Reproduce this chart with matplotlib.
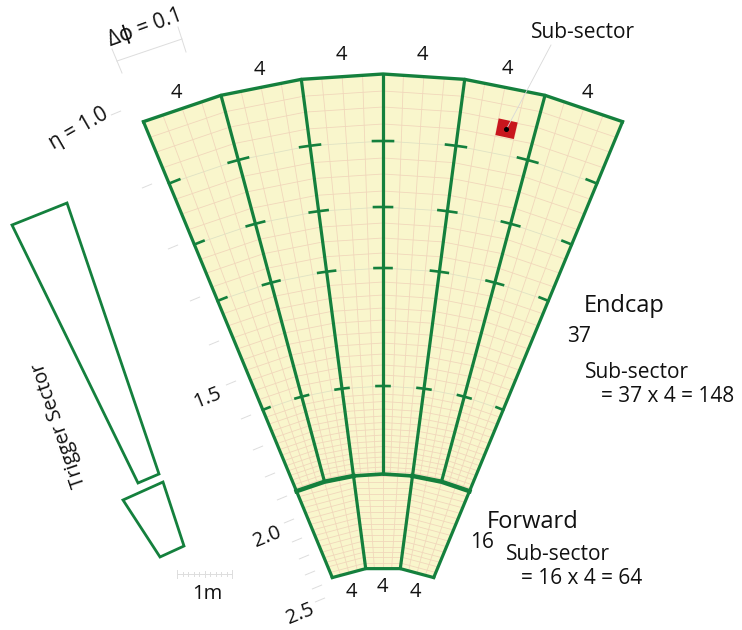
import numpy as np
import matplotlib
matplotlib.use("Agg")
import matplotlib.pyplot as plt

# picture geometry, read in pixels
center_x, center_y = 383, 700
sector_edges = [-22.5, -15, -7.5, 0, 7.5, 15, 22.5]
forward_edges = [-22.5, -7.5, 7.5, 22.5]

# ring radii from outer edge inward
endcap_rings = [626, 609, 593, 576, 559, 542, 526, 509, 493, 477, 462, 447, 432,
                418, 405, 392, 380, 368, 357, 346, 335, 325, 314, 306, 298.5, 291,
                284, 277.5, 271, 265, 259, 253.5, 248, 243, 238, 233, 229, 226]
forward_rings = [226, 220, 214, 208, 202, 196, 190, 184, 178, 172, 166, 160, 154,
                 149, 144, 138, 132.5]
tick_radii = [559, 493, 432, 314]
tick_half = [10, 9, 8.5, 6.5]

guide_x = [116, 147, 173, 195, 214, 231, 246, 258, 270, 282, 289, 297, 304, 310, 317, 320]
guide_y = [113, 186, 247, 299, 343, 383, 417, 448, 475, 498, 521, 540, 557, 573, 587, 600]

top_counts = ["4", "4", "4", "4", "4", "4"]
top_count_x = [176, 259, 341, 422, 507, 587]
top_count_y = [91, 68, 53, 53, 67, 91]
forward_count_x = [351, 382, 415]
forward_count_y = [590, 585, 590]

trigger_upper_x = [12, 67, 159, 138]
trigger_upper_y = [225, 203, 474, 483]
trigger_lower_x = [123, 163, 184, 160]
trigger_lower_y = [500, 482, 546, 557]

scale_ticks = list(range(11))

GREEN = "#14803d"
FILL = "#f9f6cc"
GRID = "#f1d7bb"
FAINT = "#dfe2c4"
GRAY = "#dddddd"
FONT = ["Open Sans", "DejaVu Sans"]


def polar(r, phi):
    a = np.radians(phi)
    return center_x + r * np.sin(a), center_y - r * np.cos(a)


def draw_sector(ax, rings, phi0, phi1):
    x0, y0 = polar(np.array(rings), phi0)
    x1, y1 = polar(np.array(rings), phi1)
    ax.fill(list(x0) + list(x1[::-1]), list(y0) + list(y1[::-1]), color=FILL, lw=0, zorder=1)
    for i, r in enumerate(rings):
        col = FAINT if r in tick_radii else GRID
        ax.plot([x0[i], x1[i]], [y0[i], y1[i]], color=col, lw=0.6, zorder=2)
    for t in [0.25, 0.5, 0.75]:
        ax.plot(x0 + (x1 - x0) * t, y0 + (y1 - y0) * t, color=GRID, lw=0.6, zorder=2)


fig = plt.figure(figsize=(7.42, 6.30), dpi=100)
ax = fig.add_axes([0, 0, 1, 1])
ax.set_xlim(0, 742)
ax.set_ylim(630, 0)
ax.axis("off")

for a, b in zip(sector_edges[:-1], sector_edges[1:]):
    draw_sector(ax, endcap_rings, a, b)
for a, b in zip(forward_edges[:-1], forward_edges[1:]):
    draw_sector(ax, forward_rings, a, b)

# radial sector lines
for phi in sector_edges:
    xs, ys = polar(np.array([endcap_rings[0], endcap_rings[-1]]), phi)
    ax.plot(xs, ys, color=GREEN, lw=2.3, zorder=4, solid_capstyle="round")
for phi in forward_edges:
    xs, ys = polar(np.array([forward_rings[0], forward_rings[-1]]), phi)
    ax.plot(xs, ys, color=GREEN, lw=2.3, zorder=4, solid_capstyle="round")

# outer edges
xs, ys = polar(endcap_rings[0], np.array(sector_edges))
ax.plot(xs, ys, color=GREEN, lw=2.4, zorder=4, solid_joinstyle="miter")
xs, ys = polar(forward_rings[-1], np.array(forward_edges))
ax.plot(xs, ys, color=GREEN, lw=2.3, zorder=4, solid_joinstyle="miter")

# endcap / forward boundary, heavier on the two outer sides
for phis, lw in [([-22.5, -15, -7.5], 3.2), ([-7.5, 0, 7.5], 2.6), ([7.5, 15, 22.5], 3.2)]:
    xs, ys = polar(endcap_rings[-1], np.array(phis))
    ax.plot(xs, ys, color=GREEN, lw=lw, zorder=4)

# short arcs on the sector lines
for r, h in zip(tick_radii, tick_half):
    d = np.degrees(h / r)
    for phi in sector_edges:
        lo = phi if phi == -22.5 else phi - d
        hi = phi if phi == 22.5 else phi + d
        if phi == -22.5:
            hi = phi + d * 1.1
        if phi == 22.5:
            lo = phi - d * 1.1
        xs, ys = polar(r, np.linspace(lo, hi, 7))
        ax.plot(xs, ys, color=GREEN, lw=1.9, zorder=5)

# marked sub-sector
sub_x, sub_y = polar(np.array([593, 593, 576, 576]), np.array([11.25, 13.125, 13.125, 11.25]))
ax.fill(sub_x, sub_y, color="#c8161d", lw=0, zorder=6)
dot_x, dot_y = polar(584, 12.2)
ax.plot([dot_x, 551], [dot_y, 45], color="#d8d8d8", lw=0.6, zorder=7)
ax.plot([dot_x], [dot_y], "o", color="black", ms=2.6, zorder=8)

# trigger sector outlines
ax.fill(trigger_upper_x, trigger_upper_y, facecolor="white", edgecolor=GREEN, lw=2.0, zorder=3)
ax.fill(trigger_lower_x, trigger_lower_y, facecolor="white", edgecolor=GREEN, lw=2.0, zorder=3)

# light guides left of the fan
for gx, gy in zip(guide_x, guide_y):
    ax.plot([gx - 4.6, gx + 4.6], [gy + 1.9, gy - 1.9], color=GRAY, lw=0.7, zorder=1)

# delta phi bracket
ax.plot([117, 182], [61, 39], color=GRAY, lw=0.7)
ax.plot([112, 122], [49, 73], color=GRAY, lw=0.7)
ax.plot([178, 186], [27, 52], color=GRAY, lw=0.7)

# 1m scale
ax.plot([177, 232], [574, 574], color=GRAY, lw=0.7)
for t in scale_ticks:
    size = 4 if t in (0, 10) else 3 if t == 5 else 1.6
    tx = 177 + t * 5.5
    ax.plot([tx, tx], [574 - size, 574 + size], color=GRAY, lw=0.7)


def label(x, y, s, size=12, rot=0, ha="center"):
    # va=center sits about 2px high for this font
    ax.text(x, y + 2, s, fontsize=size, rotation=rot, ha=ha, va="center", family=FONT,
            color="#111111", rotation_mode="anchor", zorder=9)


for x, y, s in zip(top_count_x, top_count_y, top_counts):
    label(x, y, s, 14.5)
for x, y in zip(forward_count_x, forward_count_y):
    label(x, y, "4", 14.5)

label(145, 26, "\u0394\u03d5 = 0.1", 15, 20)
label(79, 127, "\u03b7 = 1.0", 15, 30)
label(208, 396, "1.5", 14.5, 22)
label(267, 535, "2.0", 14.5, 22)
label(300, 612, "2.5", 14.5, 22)
label(59, 423, "Trigger Sector", 14.5, 109)
label(207, 592, "1m", 14.5)
label(583, 31, "Sub-sector", 15)
label(624, 304, "Endcap", 17)
label(579, 334, "37", 15)
label(585, 370, "Sub-sector", 15, ha="left")
label(601, 394, "= 37 x 4 = 148", 15, ha="left")
label(533, 520, "Forward", 17)
label(482, 540, "16", 15)
label(558, 553, "Sub-sector", 15)
label(582, 576, "= 16 x 4 = 64", 15)

fig.savefig("out.png", dpi=100)
